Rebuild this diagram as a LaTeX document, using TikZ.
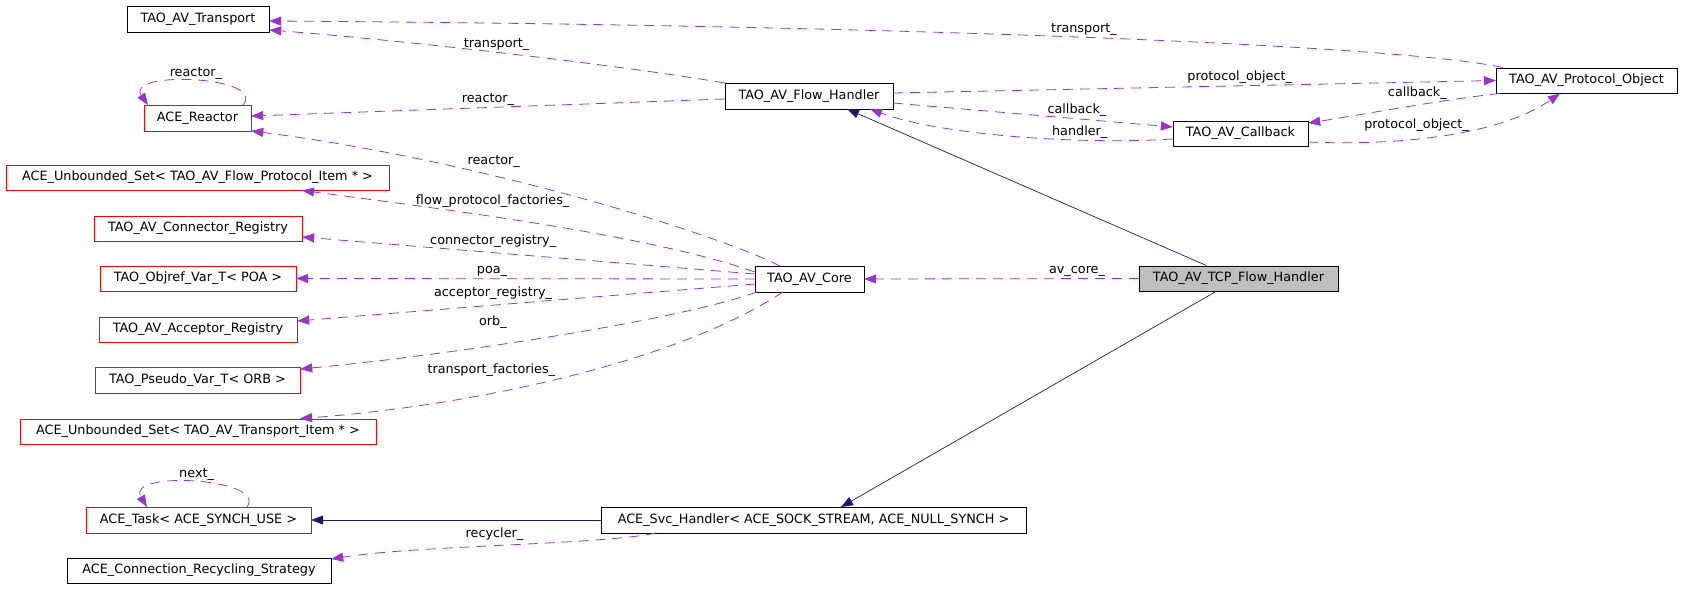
\documentclass[tikz,border=0pt]{standalone}
\usepackage{fontspec}
\setmainfont{DejaVu Sans}
\usetikzlibrary{arrows.meta}
\definecolor{memberclr}{HTML}{9A32CD}
\definecolor{inheritclr}{HTML}{191970}
\definecolor{focusclr}{HTML}{BFBFBF}
\newcommand{\dfont}{\fontsize{12.8}{15}\selectfont}
\tikzset{
    cls/.style={draw=black, rectangle, inner sep=0pt, minimum height=25.5pt, font=\dfont},
    redcls/.style={cls, draw=red},
    focuscls/.style={cls, fill=focusclr},
    member/.style={draw=memberclr, line width=0.8pt, dash pattern=on 10pt off 7pt,
        -{Triangle[length=12pt,width=9pt]}},
    inherit/.style={draw=inheritclr, line width=0.7pt, -{Triangle[length=12pt,width=9pt]}},
    lab/.style={font=\dfont, inner sep=1.5pt, anchor=south}
}

\begin{document}
\begin{tikzpicture}[x=1pt, y=1pt]
    \useasboundingbox (0,0) rectangle (1683,-589);

    % left column
    \node[cls, minimum width=142pt] (transport) at (198,-19) {TAO\_AV\_Transport};
    \node[redcls, minimum width=107pt] (reactor) at (197.5,-118) {ACE\_Reactor};
    \node[redcls, minimum width=383pt] (flowset) at (197.5,-177.5) {ACE\_Unbounded\_Set< TAO\_AV\_Flow\_Protocol\_Item * >};
    \node[redcls, minimum width=208pt] (connreg) at (198,-228.5) {TAO\_AV\_Connector\_Registry};
    \node[redcls, minimum width=196pt] (poa) at (198,-278.5) {TAO\_Objref\_Var\_T< POA >};
    \node[redcls, minimum width=198pt] (accreg) at (198,-329.5) {TAO\_AV\_Acceptor\_Registry};
    \node[redcls, minimum width=205pt] (orb) at (197.5,-380) {TAO\_Pseudo\_Var\_T< ORB >};
    \node[redcls, minimum width=356pt] (transset) at (198,-431.5) {ACE\_Unbounded\_Set< TAO\_AV\_Transport\_Item * >};
    \node[redcls, minimum width=225pt] (task) at (198.5,-520) {ACE\_Task< ACE\_SYNCH\_USE >};
    \node[cls, minimum width=264pt] (recycling) at (199,-570.5) {ACE\_Connection\_Recycling\_Strategy};

    % middle and right
    \node[cls, minimum width=168pt] (flowhandler) at (809,-96) {TAO\_AV\_Flow\_Handler};
    \node[cls, minimum width=135pt] (callback) at (1240.5,-133.5) {TAO\_AV\_Callback};
    \node[cls, minimum width=181pt] (protocol) at (1586.5,-80.5) {TAO\_AV\_Protocol\_Object};
    \node[cls, minimum width=109pt] (core) at (809.5,-279) {TAO\_AV\_Core};
    \node[focuscls, minimum width=199pt] (tcp) at (1238.5,-278.5) {TAO\_AV\_TCP\_Flow\_Handler};
    \node[cls, minimum width=425pt] (svc) at (813.5,-520) {ACE\_Svc\_Handler< ACE\_SOCK\_STREAM, ACE\_NULL\_SYNCH >};

    % inheritance
    \draw[inherit] ([xshift=-32pt]tcp.north) -- ([xshift=38pt]flowhandler.south);
    \draw[inherit] ([xshift=-22.5pt]tcp.south) -- ([xshift=27.5pt]svc.north);
    \draw[inherit] (svc.west) -- (task.east);

    % members
    \draw[member] ([xshift=7pt]protocol.north west) .. controls (1400,-45) and (900,-25) .. ([yshift=-2pt]transport.east)
        node[lab, pos=0.5] {transport\_};
    \draw[member] (flowhandler.north west) .. controls (620,-65) and (400,-40) .. ([yshift=-11pt]transport.east)
        node[lab, pos=0.52] {transport\_};
    \draw[member] ([yshift=-3pt]flowhandler.west) -- ([yshift=2pt]reactor.east)
        node[lab, pos=0.5] {reactor\_};
    \draw[member] ([xshift=45.5pt]reactor.north) .. controls (268,-76) and (124,-70) .. ([xshift=-49.5pt]reactor.north)
        node[lab, pos=0.5] {reactor\_};
    \draw[member] ([xshift=-29.5pt]core.north) .. controls (720,-235) and (480,-160) .. (reactor.south east)
        node[lab, pos=0.64, above=7pt] {reactor\_};
    \draw[member] ([yshift=7pt]core.west) .. controls (650,-235) and (450,-210) .. ([xshift=104.5pt]flowset.south)
        node[lab, pos=0.605, above=7pt] {flow\_protocol\_factories\_};
    \draw[member] ([yshift=5pt]core.west) -- ([yshift=-8.5pt]connreg.east)
        node[lab, pos=0.578, above=3pt] {connector\_registry\_};
    \draw[member] (core.west) -- (poa.east)
        node[lab, pos=0.573] {poa\_};
    \draw[member] ([yshift=-5pt]core.west) -- ([yshift=8.5pt]accreg.east)
        node[lab, pos=0.572, above=4pt] {acceptor\_registry\_};
    \draw[member] ([xshift=2pt]core.south west) .. controls (680,-320) and (450,-355) .. ([yshift=11pt]orb.east)
        node[lab, pos=0.62, above=15pt] {orb\_};
    \draw[member] ([xshift=-26.5pt]core.south) .. controls (680,-360) and (480,-405) .. ([xshift=102pt]transset.north)
        node[lab, pos=0.65, above=15pt] {transport\_factories\_};
    \draw[member] ([yshift=3pt]flowhandler.east) -- (protocol.west)
        node[lab, pos=0.575] {protocol\_object\_};
    \draw[member] ([yshift=-7pt]flowhandler.east) -- ([yshift=6.5pt]callback.west)
        node[lab, pos=0.657] {callback\_};
    \draw[member] ([yshift=-5.5pt]callback.west) .. controls (1080,-145) and (940,-135) .. ([xshift=61pt]flowhandler.south)
        node[lab, pos=0.3] {handler\_};
    \draw[member] ([xshift=4pt]protocol.south west) .. controls (1440,-100) and (1360,-115) .. ([yshift=10.5pt]callback.east)
        node[lab, pos=0.42, above=4pt] {callback\_};
    \draw[member] ([yshift=-8.5pt]callback.east) .. controls (1400,-146) and (1500,-135) .. ([xshift=-26.5pt]protocol.south)
        node[lab, pos=0.39, above=5pt] {protocol\_object\_};
    \draw[member] (tcp.west) -- (core.east)
        node[lab, pos=0.225] {av\_core\_};
    \draw[member] ([xshift=-157.5pt]svc.south) .. controls (600,-545) and (420,-545) .. ([yshift=11.5pt]recycling.east)
        node[lab, pos=0.53, above=3pt] {recycler\_};
    \draw[member] ([xshift=48.5pt]task.north) .. controls (268,-478) and (125,-470) .. ([xshift=-51.5pt]task.north)
        node[lab, pos=0.5] {next\_};
\end{tikzpicture}
\end{document}
